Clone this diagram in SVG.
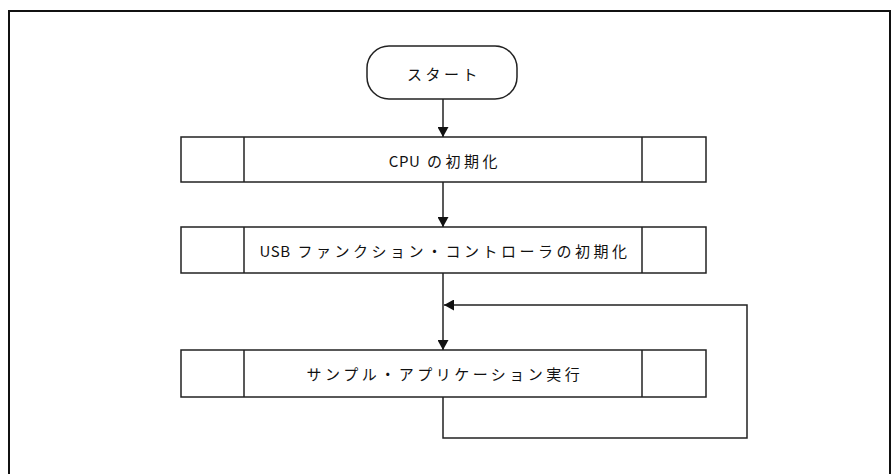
<svg xmlns="http://www.w3.org/2000/svg" width="896" height="474" viewBox="0 0 896 474">
<defs>
<style>
.box{fill:#fff;stroke:#222;stroke-width:1.5}
.ln{fill:none;stroke:#222;stroke-width:1.5}
.lbl{font-family:"Noto Sans CJK JP","Liberation Sans",sans-serif;font-size:15px;fill:#111;letter-spacing:3.5px;text-anchor:middle;dominant-baseline:central}
.lat{letter-spacing:0.5px}
</style>
<marker id="ah" viewBox="0 0 10 10" refX="10" refY="5" markerWidth="10" markerHeight="11" markerUnits="userSpaceOnUse" orient="auto" preserveAspectRatio="none">
<path d="M0,0 L10,5 L0,10 Z" fill="#111"/>
</marker>
</defs>
<rect width="896" height="474" fill="#fff"/>
<path d="M9,480 V11 H890 V480" fill="none" stroke="#111" stroke-width="2"/>
<g id="start">
<rect class="box" x="367" y="46" width="150" height="53" rx="22" ry="22"/>
<text class="lbl" x="444" y="73">スタート</text>
</g>
<g id="cpu-init">
<rect class="box" x="181" y="137" width="525" height="45"/>
<line class="ln" x1="244" y1="137" x2="244" y2="182"/>
<line class="ln" x1="642" y1="137" x2="642" y2="182"/>
<text class="lbl" x="445" y="160"><tspan class="lat">CPU</tspan> の初期化</text>
</g>
<g id="usb-init">
<rect class="box" x="181" y="227" width="525" height="46"/>
<line class="ln" x1="244" y1="227" x2="244" y2="273"/>
<line class="ln" x1="642" y1="227" x2="642" y2="273"/>
<text class="lbl" x="445" y="250"><tspan class="lat">USB</tspan> ファンクション・コントローラの初期化</text>
</g>
<g id="app-run">
<rect class="box" x="181" y="350" width="525" height="47"/>
<line class="ln" x1="244" y1="350" x2="244" y2="397"/>
<line class="ln" x1="642" y1="350" x2="642" y2="397"/>
<text class="lbl" x="445" y="373">サンプル・アプリケーション実行</text>
</g>
<g id="connectors">
<line class="ln" x1="443" y1="99" x2="443" y2="137" marker-end="url(#ah)"/>
<line class="ln" x1="443" y1="182" x2="443" y2="227" marker-end="url(#ah)"/>
<line class="ln" x1="443" y1="273" x2="443" y2="350" marker-end="url(#ah)"/>
<path class="ln" d="M443,397 V438 H747 V305 H444" marker-end="url(#ah)"/>
</g>
</svg>
